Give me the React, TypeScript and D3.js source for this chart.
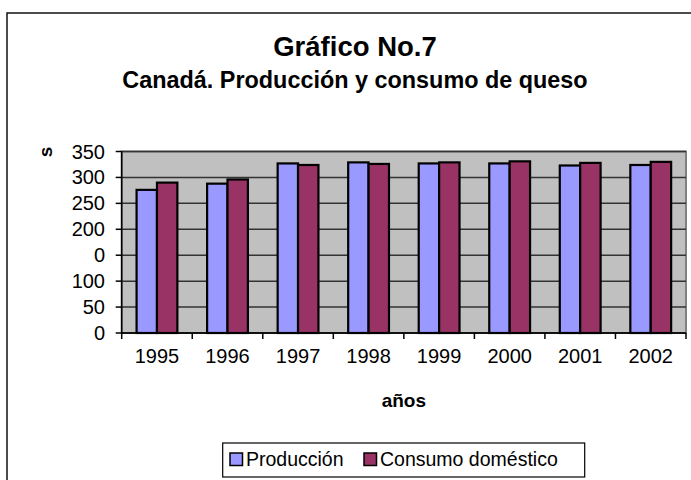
import React from "react";
import * as d3 from "d3";

const years = ["1995", "1996", "1997", "1998", "1999", "2000", "2001", "2002"];
const produccion = [276, 288, 327, 329, 327, 327, 323, 324];
const consumo = [290, 296, 324, 326, 329, 331, 328, 330];
const tickValues = [0, 50, 100, 150, 200, 250, 300, 350];
const tickLabels = ["0", "50", "100", "0", "200", "250", "300", "350"];
const seriesNames = ["Producción", "Consumo doméstico"];
const seriesColors = ["#9999FF", "#993366"];

export default function App() {
  const W = 691, H = 480;
  const left = 121.7, right = 686, top = 151.5, bottom = 333;
  const x = d3.scaleBand().domain(years).range([left, right]).paddingInner(0).paddingOuter(0);
  const y = d3.scaleLinear().domain([0, 350]).range([bottom, top]);
  const barW = 20.4;
  const font = "Arial, 'Liberation Sans', sans-serif";
  const series = [produccion, consumo];

  return (
    <svg width={W} height={H} style={{ position: "fixed", left: 0, top: 0, background: "#fff" }} fontFamily={font}>
      <rect x={7} y={13} width={W + 20} height={H + 20} fill="#fff" stroke="#111" strokeWidth={1.5} />
      <text x={355} y={56} textAnchor="middle" fontSize={27.5} fontWeight="bold">Gráfico No.7</text>
      <text x={355} y={88} textAnchor="middle" fontSize={23.4} fontWeight="bold">Canadá. Producción y consumo de queso</text>

      <rect x={left} y={top} width={right - left} height={bottom - top} fill="#C0C0C0" stroke="#808080" strokeWidth={2} />
      {tickValues.map((t) => (
        <line key={"g" + t} x1={left} x2={right} y1={y(t)} y2={y(t)} stroke="#333" strokeWidth={1.5} />
      ))}
      {years.map((yr, i) =>
        series.map((s, j) => {
          const cx = (x(yr) as number) + x.bandwidth() / 2;
          const bx = cx - barW + j * barW;
          return (
            <rect key={yr + j} x={bx} y={y(s[i])} width={barW} height={bottom - y(s[i])}
              fill={seriesColors[j]} stroke="#000" strokeWidth={2.2} />
          );
        })
      )}
      <line x1={left} x2={left} y1={top} y2={bottom} stroke="#000" strokeWidth={1.5} />
      <line x1={left} x2={right} y1={bottom} y2={bottom} stroke="#000" strokeWidth={1.5} />
      {tickValues.map((t, i) => (
        <g key={"t" + t}>
          <line x1={left - 6} x2={left} y1={y(t)} y2={y(t)} stroke="#000" strokeWidth={1.5} />
          <text x={105} y={y(t)} dy="0.35em" textAnchor="end" fontSize={20}>{tickLabels[i]}</text>
        </g>
      ))}
      {years.map((yr) => (
        <g key={"x" + yr}>
          <line x1={x(yr) as number} x2={x(yr) as number} y1={bottom} y2={bottom + 6} stroke="#000" strokeWidth={1.5} />
          <text x={(x(yr) as number) + x.bandwidth() / 2} y={bottom + 30} textAnchor="middle" fontSize={20}>{yr}</text>
        </g>
      ))}
      <line x1={right} x2={right} y1={bottom} y2={bottom + 6} stroke="#000" strokeWidth={1.5} />
      <text x={(left + right) / 2} y={bottom + 74} textAnchor="middle" fontSize={19} fontWeight="bold">años</text>
      <text transform={`translate(52,152) rotate(-90)`} textAnchor="middle" fontSize={19} fontWeight="bold">s</text>

      <rect x={222.7} y={443} width={362} height={34} fill="#fff" stroke="#000" strokeWidth={1.2} />
      {seriesNames.map((n, j) => {
        const offs = [230, 364];
        return (
          <g key={n}>
            <rect x={offs[j]} y={453} width={12.5} height={12.5} fill={seriesColors[j]} stroke="#000" strokeWidth={1.5} />
            <text x={offs[j] + 16} y={466} fontSize={19.5}>{n}</text>
          </g>
        );
      })}
    </svg>
  );
}
